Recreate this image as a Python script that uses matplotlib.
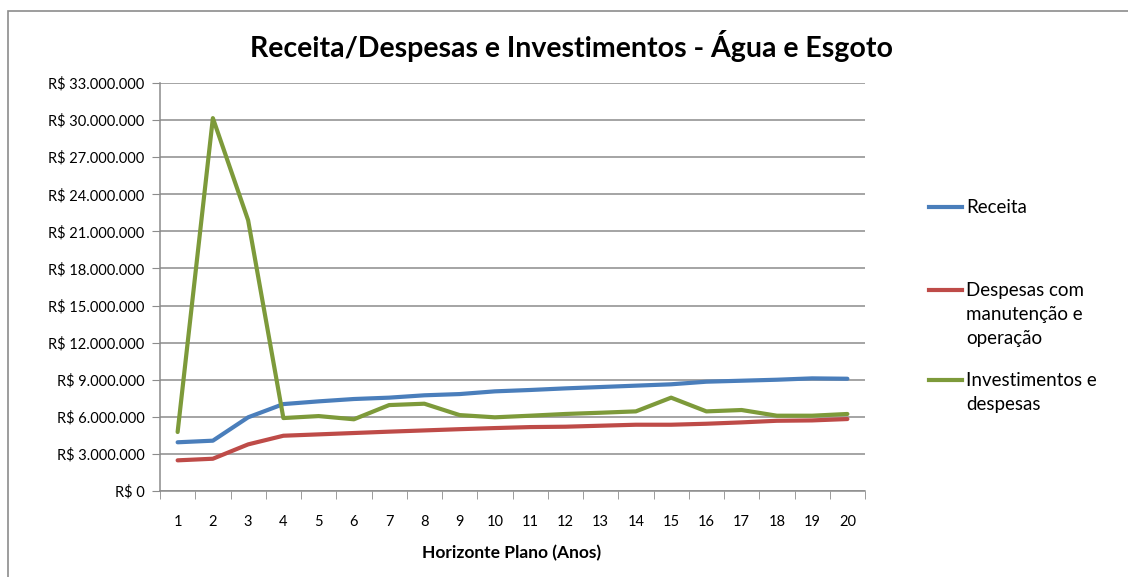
import matplotlib.pyplot as plt
from matplotlib.lines import Line2D
from matplotlib.patches import Rectangle
from matplotlib.ticker import FuncFormatter

plt.rcParams['font.family'] = ['Lato', 'DejaVu Sans']

anos = list(range(1, 21))
receita = [3.94, 4.07, 5.96, 7.03, 7.25, 7.44, 7.55, 7.74, 7.84, 8.06,
           8.17, 8.30, 8.41, 8.52, 8.63, 8.84, 8.92, 9.00, 9.11, 9.08]
despesas = [2.48, 2.61, 3.77, 4.47, 4.58, 4.69, 4.80, 4.90, 5.00, 5.09,
            5.17, 5.20, 5.28, 5.36, 5.36, 5.44, 5.55, 5.68, 5.71, 5.82]
investimentos = [4.77, 30.16, 21.90, 5.90, 6.06, 5.80, 6.95, 7.06, 6.14, 5.96,
                 6.09, 6.23, 6.33, 6.44, 7.55, 6.44, 6.55, 6.09, 6.09, 6.23]

nomes = ['Receita', 'Despesas com\nmanutenção e\noperação', 'Investimentos e\ndespesas']
cores = ['#4a7ebb', '#be4b48', '#7d9a3a']

W, H = 1128, 577
fig = plt.figure(figsize=(W / 100, H / 100), dpi=100)
ax = fig.add_axes([160 / W, 1 - 491 / H, (865 - 160) / W, (491 - 83) / H])

# borda do gráfico (estilo Excel)
fig.add_artist(Rectangle((8 / W, -0.1), 1.2, 1 - 11 / H + 0.1, transform=fig.transFigure,
                         fill=False, edgecolor='#8c8c8c', linewidth=1.2))

for serie, cor in zip([receita, despesas, investimentos], cores):
    ax.plot(anos, [v * 1e6 for v in serie], color=cor, linewidth=3, solid_capstyle='round')

ax.set_xlim(0.5, 20.5)
ax.set_ylim(0, 33e6)
ax.set_yticks([i * 3e6 for i in range(12)])
ax.yaxis.set_major_formatter(FuncFormatter(
    lambda v, p: 'R$ 0' if v == 0 else 'R$ ' + f'{int(round(v)):,}'.replace(',', '.')))
ax.set_xticks(anos)
ax.set_xticks([a + 0.5 for a in range(0, 21)], minor=True)
ax.tick_params(axis='x', which='major', length=0, pad=17, labelsize=10.5)
ax.tick_params(axis='x', which='minor', length=6, color='#8c8c8c')
ax.tick_params(axis='y', length=6, color='#8c8c8c', labelsize=10.5, pad=5)
ax.grid(axis='y', color='#8c8c8c', linewidth=1.1)
ax.set_axisbelow(True)
for s in ['top', 'right']:
    ax.spines[s].set_visible(False)
for s in ['left', 'bottom']:
    ax.spines[s].set_color('#8c8c8c')
    ax.spines[s].set_linewidth(1.1)

fig.text(572 / W, 1 - 46 / H, 'Receita/Despesas e Investimentos - Água e Esgoto',
         ha='center', va='center', fontsize=20.5, fontweight='bold')
fig.text(512 / W, 1 - 553 / H, 'Horizonte Plano (Anos)', ha='center', va='center',
         fontsize=12.5, fontweight='bold')

# legenda manual
leg_y = [207, 290, 380]
for nome, cor, y in zip(nomes, cores, leg_y):
    fig.add_artist(Line2D([929 / W, 962 / W], [1 - y / H] * 2, color=cor, linewidth=3,
                          transform=fig.transFigure))
    fig.text(966 / W, 1 - (y - 8) / H, nome, ha='left', va='top', fontsize=13.5,
             linespacing=1.5)

fig.savefig('out.png', dpi=100)
